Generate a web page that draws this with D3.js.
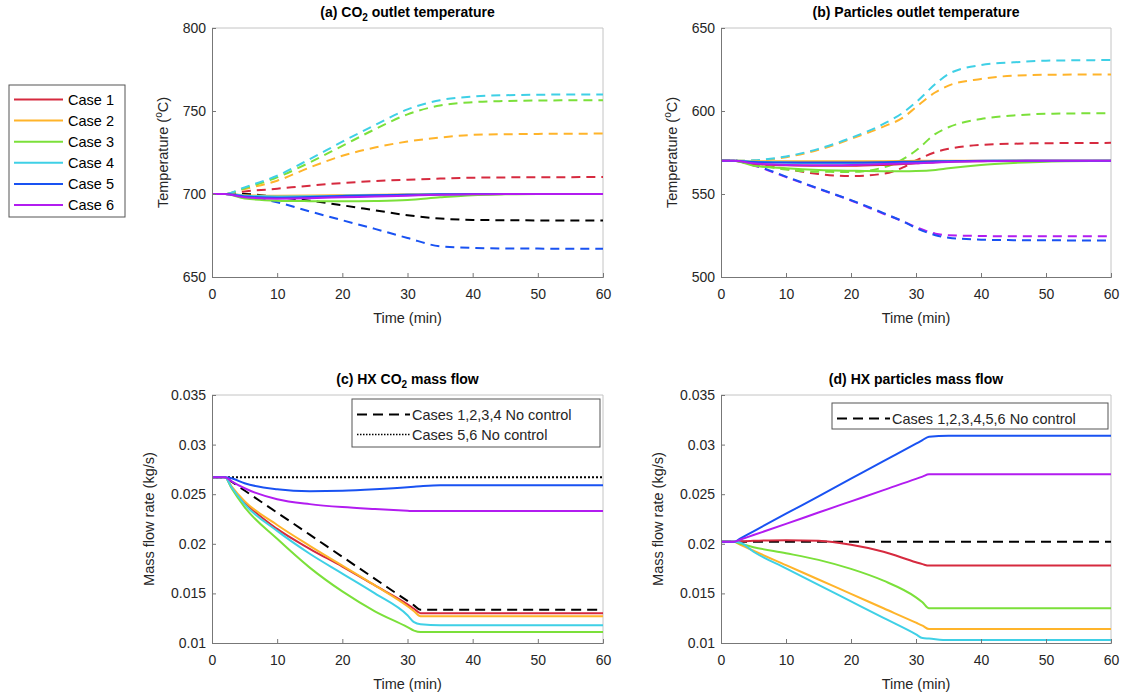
<!DOCTYPE html>
<html><head><meta charset="utf-8">
<script src="https://cdn.jsdelivr.net/npm/d3@7"></script>
<style>body{margin:0;background:#fff;} svg{font-family:"Liberation Sans",Arial,sans-serif;}</style>
</head><body><svg id="chart" width="1128" height="699"></svg>
<script>
// ---------------- data ----------------
const caseNames = ["Case 1","Case 2","Case 3","Case 4","Case 5","Case 6"];
const caseColors = ["#d62a3f","#ffb42a","#7be03a","#3fd0e6","#1952f2","#b21cf0"];
const xTicks = [0,10,20,30,40,50,60];

// (a) CO2 outlet temperature
const tA = [0,2,5,10,15,20,25,30,35,40,45,50,60];
const aControl = [
  [700,700,699,698.3,698.5,699,699.3,699.6,699.8,700,700,700,700],
  [700,700,699.3,699,699.1,699.3,699.5,699.7,699.9,700,700,700,700],
  [700,700,697.3,696,695.7,695.6,695.8,696.4,698,699.3,699.8,700,700],
  [700,700,699,698.5,698.6,699,699.3,699.6,699.8,700,700,700,700],
  [700,700,698.5,697.8,698.2,698.8,699.2,699.5,699.8,700,700,700,700],
  [700,700,698,697.2,697.5,698,698.5,699,699.5,699.8,700,700,700]
];
const aNoCtrlColors = ["#d62a3f","#ffb42a","#7be03a","#3fd0e6","#000000","#1952f2"];
const aNoCtrl = [
  [700,700,701.5,703.2,705,706.6,707.8,708.6,709.3,709.8,710,710.1,710.2],
  [700,700,703,708,716,723,728,731.6,734,735.6,736,736.2,736.4],
  [700,700,703.5,710,719,729,739,748,753.3,755.3,756,756.3,756.5],
  [700,700,704,711,721,731.5,741.5,751,756.5,758.7,759.5,759.8,760],
  [700,700,700,698.2,696,693.2,690.2,687.2,685.2,684.4,684.2,684.1,684],
  [700,700,699,695,689.5,684.2,679,673.5,668.5,667.5,667.2,667.1,667]
];
const aYTicks = [650,700,750,800];

// (b) Particles outlet temperature
const tB = [0,2,5,10,15,20,25,28,30,33,35,40,45,50,60];
const bControl = [
  [570,570,568,567.3,567,567,567.5,568,568.5,569.2,569.5,569.8,570,570,570],
  [570,570,569.8,569.7,569.7,569.7,569.8,569.9,570,570,570,570,570,570,570],
  [570,570,567,565.5,564.5,564,563.7,563.7,563.8,564.5,565.5,567.5,568.7,569.5,570],
  [570,570,569.5,569,568.6,568.5,568.7,568.9,569,569.5,569.7,569.9,570,570,570],
  [570,570,569.3,569,569,569,569.2,569.4,569.5,569.7,569.8,570,570,570,570],
  [570,570,568.5,567.5,567.3,567.5,568,568.3,568.5,569,569.3,569.7,569.9,570,570]
];
const bNoCtrlColors = ["#d62a3f","#ffb42a","#7be03a","#3fd0e6","#b21cf0","#1952f2"];
const bNoCtrl = [
  [570,570,568,565,562,560.8,562.2,566,570.2,575.2,577.2,579.6,580.3,580.6,580.8],
  [570,570,570.2,572.2,576.6,583.2,590.6,596,602.3,611.3,615.3,619.3,621.3,621.8,622],
  [570,570,568,564.8,563.4,563.3,566,571,576.2,586.2,590.2,595.2,597.3,598.3,598.7],
  [570,570,570.3,572.6,577.2,583.8,592.2,599,605.3,616.3,622.3,627.7,629.3,630.3,630.7],
  [570,570,567.2,560.2,553.1,546.1,538.1,533.5,530.1,526.1,525.1,524.7,524.5,524.5,524.5],
  [570,570,567.5,560.5,553.3,546.3,538.5,533.5,529.5,525.2,523.7,522.5,522.2,522.1,522]
];
const bYTicks = [500,550,600,650];

// (c) HX CO2 mass flow
const tC = [0,2,3,5,10,15,20,25,30,31,32,35,40,50,60];
const cControl = [
  [0.0267,0.0267,0.0257,0.0242,0.0215,0.0195,0.0177,0.0158,0.0139,0.01345,0.0130,0.0130,0.0130,0.0130,0.0130],
  [0.0267,0.0267,0.0258,0.0243,0.0219,0.0198,0.0178,0.0158,0.0137,0.0132,0.0127,0.0127,0.0127,0.0127,0.0127],
  [0.0267,0.0267,0.0256,0.0237,0.0205,0.0176,0.0152,0.0132,0.0116,0.01125,0.0111,0.0111,0.0111,0.0111,0.0111],
  [0.0267,0.0267,0.0257,0.0240,0.0213,0.0190,0.0170,0.0150,0.0128,0.0121,0.0119,0.0118,0.0118,0.0118,0.0118],
  [0.0267,0.0267,0.0266,0.0261,0.0255,0.0253,0.02535,0.0255,0.0257,0.02575,0.0258,0.0259,0.0259,0.0259,0.0259],
  [0.0267,0.0267,0.0263,0.0256,0.0245,0.0240,0.0237,0.0235,0.02333,0.0233,0.0233,0.0233,0.0233,0.0233,0.0233]
];
const cNoCtrl1234 = [0.0267,0.0267,0.02626,0.02537,0.02314,0.02092,0.01869,0.01647,0.01424,0.0138,0.01335,0.01335,0.01335,0.01335,0.01335];
const cNoCtrl56 = [0.0267,0.0267,0.0267,0.0267,0.0267,0.0267,0.0267,0.0267,0.0267,0.0267,0.0267,0.0267,0.0267,0.0267,0.0267];
const cYTicks = [0.01,0.015,0.02,0.025,0.03,0.035];
const cYLabels = ["0.01","0.015","0.02","0.025","0.03","0.035"];

// (d) HX particles mass flow
const tD = [0,2,3,5,10,15,20,25,30,31,32,35,40,50,60];
const dControl = [
  [0.0202,0.0202,0.02025,0.0203,0.02037,0.0203,0.0199,0.0192,0.01814,0.01795,0.0178,0.0178,0.0178,0.0178,0.0178],
  [0.0202,0.0202,0.0199,0.0193,0.01785,0.0164,0.01495,0.0135,0.01205,0.01175,0.0114,0.0114,0.0114,0.0114,0.0114],
  [0.0202,0.0202,0.0200,0.01966,0.01905,0.01838,0.01747,0.01628,0.0146,0.0141,0.0135,0.0135,0.0135,0.0135,0.0135],
  [0.0202,0.0202,0.0201,0.0192,0.01753,0.01587,0.0142,0.01253,0.01087,0.0105,0.01045,0.0103,0.0103,0.0103,0.0103],
  [0.0202,0.0202,0.02055,0.02126,0.02303,0.02479,0.02656,0.02833,0.03009,0.03045,0.0308,0.0309,0.0309,0.0309,0.0309],
  [0.0202,0.0202,0.02043,0.02088,0.02201,0.02315,0.02428,0.02541,0.02655,0.02677,0.0270,0.0270,0.0270,0.0270,0.0270]
];
const dNoCtrl = [0.0202,0.0202,0.0202,0.0202,0.0202,0.0202,0.0202,0.0202,0.0202,0.0202,0.0202,0.0202,0.0202,0.0202,0.0202];

// ---------------- drawing ----------------
const svg = d3.select("#chart");
const DASH = "9,6", DOT = "2,2";
let clipId = 0;

function panel(o) {
  const g = svg.append("g");
  const x = d3.scaleLinear().domain([0,60]).range([o.l,o.r]);
  const y = d3.scaleLinear().domain(o.yDomain).range([o.b,o.t]);
  const id = "clip" + (clipId++);
  g.append("clipPath").attr("id", id).append("rect")
    .attr("x", o.l).attr("y", o.t).attr("width", o.r - o.l).attr("height", o.b - o.t);

  // box top/right
  g.append("path").attr("d", `M${o.l},${o.t}H${o.r}V${o.b}`).attr("fill","none")
    .attr("stroke","#c4c4c4").attr("stroke-width",1);

  const lines = g.append("g").attr("clip-path", `url(#${id})`);
  const line = (t) => d3.line().x((d,i)=>x(t[i])).y(d=>y(d)).curve(d3.curveMonotoneX);
  o.series.forEach(s => {
    lines.append("path").attr("d", line(s.t)(s.v)).attr("fill","none")
      .attr("stroke", s.color).attr("stroke-width", s.w || 2)
      .attr("stroke-dasharray", s.dash || null);
  });

  // axes
  const xa = g.append("g").attr("transform", `translate(0,${o.b})`)
    .call(d3.axisBottom(x).tickValues(xTicks).tickSize(-4).tickPadding(12));
  const ya = g.append("g").attr("transform", `translate(${o.l},0)`)
    .call(d3.axisLeft(y).tickValues(o.yTicks).tickSize(-4).tickPadding(6)
      .tickFormat((d,i)=> o.yLabels ? o.yLabels[i] : d));
  [xa, ya].forEach(a => {
    a.select(".domain").attr("stroke","#777");
    a.selectAll(".tick line").attr("stroke","#777");
    a.selectAll("text").attr("font-size",14).attr("fill","#262626")
      .attr("font-family","'Liberation Sans',Arial,sans-serif");
  });

  // title
  const tt = g.append("text").attr("x",(o.l+o.r)/2).attr("y",o.t-11)
    .attr("text-anchor","middle").attr("font-size",14).attr("font-weight","bold").attr("fill","#000");
  o.title.forEach(p => {
    const ts = tt.append("tspan").text(p.text);
    if (p.sub) ts.attr("font-size",10).attr("dy",4);
    else if (p.after) ts.attr("dy",-4);
  });
  // x label
  g.append("text").attr("x",(o.l+o.r)/2).attr("y",o.b+46).attr("text-anchor","middle")
    .attr("font-size",14.5).attr("fill","#262626").text("Time (min)");
  // y label
  const yl = g.append("text").attr("transform",`translate(${o.ylx},${(o.t+o.b)/2}) rotate(-90)`)
    .attr("text-anchor","middle").attr("font-size",14.5).attr("fill","#262626");
  o.ylabel.forEach(p => {
    const ts = yl.append("tspan").text(p.text);
    if (p.sup) ts.attr("font-size",10).attr("dy",-6);
    else if (p.after) ts.attr("dy",6);
  });

  if (o.legend) {
    const L = o.legend;
    g.append("rect").attr("x",L.x).attr("y",L.y).attr("width",L.w).attr("height",L.h)
      .attr("fill","#fff").attr("stroke","#555").attr("stroke-width",1);
    L.items.forEach((it,i) => {
      const yy = L.y + 15.5 + i*20;
      g.append("line").attr("x1",L.x+5).attr("x2",L.x+58).attr("y1",yy).attr("y2",yy)
        .attr("stroke","#000").attr("stroke-width", it.w).attr("stroke-dasharray", it.dash);
      g.append("text").attr("x",L.x+60).attr("y",yy+5).attr("font-size",14.5)
        .attr("fill","#262626").text(it.label);
    });
  }
}

function buildSeries(t, noCtrl, noCtrlColors, control) {
  const s = [];
  noCtrl.forEach((v,i) => s.push({t, v, color: noCtrlColors[i], dash: DASH, w: 2}));
  control.forEach((v,i) => s.push({t, v, color: caseColors[i], w: 2}));
  return s;
}

panel({l:212,r:603,t:28,b:277,yDomain:[650,800],yTicks:aYTicks,
  series: buildSeries(tA, aNoCtrl, aNoCtrlColors, aControl),
  title:[{text:"(a) CO"},{text:"2",sub:true},{text:" outlet temperature",after:true}],
  ylabel:[{text:"Temperature ("},{text:"o",sup:true},{text:"C)",after:true}], ylx:168});

panel({l:721,r:1111,t:28,b:277,yDomain:[500,650],yTicks:bYTicks,
  series: buildSeries(tB, bNoCtrl, bNoCtrlColors, bControl),
  title:[{text:"(b) Particles outlet temperature"}],
  ylabel:[{text:"Temperature ("},{text:"o",sup:true},{text:"C)",after:true}], ylx:677});

const cSeries = [
  {t:tC, v:cNoCtrl1234, color:"#000", dash:"10,6", w:2},
  {t:tC, v:cNoCtrl56, color:"#000", dash:DOT, w:2}
].concat(cControl.map((v,i)=>({t:tC, v, color:caseColors[i], w:2})));
panel({l:212,r:603,t:395,b:643,yDomain:[0.01,0.035],yTicks:cYTicks,yLabels:cYLabels,
  series: cSeries,
  title:[{text:"(c) HX CO"},{text:"2",sub:true},{text:" mass flow",after:true}],
  ylabel:[{text:"Mass flow rate (kg/s)"}], ylx:154,
  legend:{x:352,y:399,w:248,h:48,items:[
    {label:"Cases 1,2,3,4 No control", dash:"10,6", w:2},
    {label:"Cases 5,6 No control", dash:"1.5,1.5", w:1.5}]}});

const dSeries = [{t:tD, v:dNoCtrl, color:"#000", dash:"10,6", w:2}]
  .concat(dControl.map((v,i)=>({t:tD, v, color:caseColors[i], w:2})));
panel({l:721,r:1111,t:395,b:643,yDomain:[0.01,0.035],yTicks:cYTicks,yLabels:cYLabels,
  series: dSeries,
  title:[{text:"(d) HX particles mass flow"}],
  ylabel:[{text:"Mass flow rate (kg/s)"}], ylx:663,
  legend:{x:832,y:403,w:276,h:26,items:[
    {label:"Cases 1,2,3,4,5,6 No control", dash:"10,6", w:2}]}});

// case legend (left)
const lg = svg.append("g");
lg.append("rect").attr("x",9).attr("y",85).attr("width",116).attr("height",132)
  .attr("fill","#fff").attr("stroke","#555").attr("stroke-width",1);
caseNames.forEach((n,i) => {
  const yy = 99.5 + i*21.1;
  lg.append("line").attr("x1",14).attr("x2",63).attr("y1",yy).attr("y2",yy)
    .attr("stroke",caseColors[i]).attr("stroke-width",2);
  lg.append("text").attr("x",68).attr("y",yy+5).attr("font-size",14.5).attr("fill","#000").text(n);
});
</script></body></html>
